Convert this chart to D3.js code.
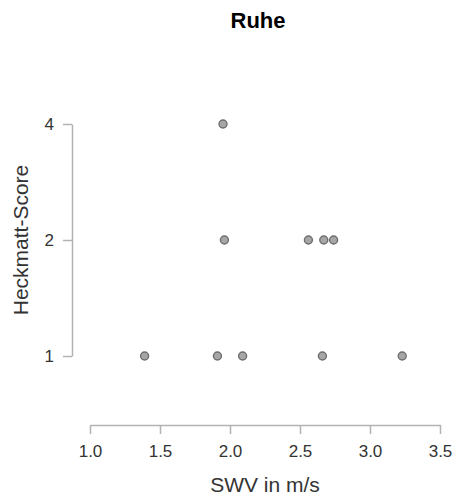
<!DOCTYPE html>
<html>
<head>
<meta charset="utf-8">
<script src="https://cdn.jsdelivr.net/npm/d3@7"></script>
<style>
  html, body { margin: 0; padding: 0; background: #fff; }
  svg { display: block; font-family: "Liberation Sans", Arial, Helvetica, sans-serif; }
</style>
</head>
<body>
<svg id="chart" width="455" height="497"></svg>
<script>
const title = "Ruhe";
const xLabel = "SWV in m/s";
const yLabel = "Heckmatt-Score";
const swv      = [1.95, 1.96, 2.56, 2.67, 2.74, 1.39, 1.91, 2.09, 2.66, 3.23];
const heckmatt = [4,    2,    2,    2,    2,    1,    1,    1,    1,    1];
const xTicks = [1.0, 1.5, 2.0, 2.5, 3.0, 3.5];
const yTicks = [1, 2, 4];

const svg = d3.select("#chart");
const x = d3.scaleLinear().domain([1, 3.5]).range([90, 440]);
const y = d3.scaleLog().base(2).domain([1, 4]).range([356, 124]);

const axisColor = "#b3b3b3";
const textColor = "#333";

const gx = svg.append("g").attr("transform", "translate(0,425)")
  .call(d3.axisBottom(x).tickValues(xTicks).tickFormat(d3.format(".1f"))
    .tickSize(9).tickSizeOuter(0).tickPadding(11));
const gy = svg.append("g").attr("transform", "translate(72,0)")
  .call(d3.axisLeft(y).tickValues(yTicks).tickFormat(d3.format("d"))
    .tickSize(9).tickSizeOuter(0).tickPadding(9));

[gx, gy].forEach(g => {
  g.select(".domain").attr("stroke", axisColor).attr("stroke-width", 1.5);
  g.selectAll(".tick line").attr("stroke", axisColor).attr("stroke-width", 1.5);
  g.selectAll(".tick text").attr("fill", textColor)
    .style("font-size", "17px").style("font-family", "'Liberation Sans', Arial, sans-serif");
});

svg.append("g").selectAll("circle")
  .data(swv.map((v, i) => ({ x: v, y: heckmatt[i] })))
  .join("circle")
  .attr("cx", d => x(d.x))
  .attr("cy", d => y(d.y))
  .attr("r", 4)
  .attr("fill", "#a6a6a6")
  .attr("stroke", "#6e6e6e")
  .attr("stroke-width", 1.4);

svg.append("text")
  .attr("x", 258).attr("y", 28)
  .attr("text-anchor", "middle")
  .style("font-size", "22px").style("font-weight", "bold")
  .attr("fill", "#000")
  .text(title);

svg.append("text")
  .attr("x", 265).attr("y", 492)
  .attr("text-anchor", "middle")
  .style("font-size", "21px")
  .attr("fill", textColor)
  .text(xLabel);

svg.append("text")
  .attr("transform", "translate(28,240) rotate(-90)")
  .attr("text-anchor", "middle")
  .style("font-size", "21px")
  .attr("fill", textColor)
  .text(yLabel);
</script>
</body>
</html>
